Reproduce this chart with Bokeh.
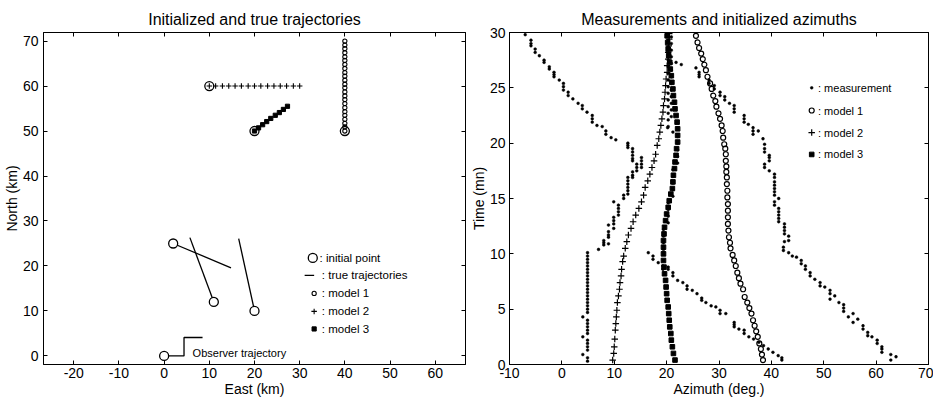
from bokeh.plotting import figure
from bokeh.layouts import row
from bokeh.models import Range1d, LinearAxis, FixedTicker, ColumnDataSource, Label
from bokeh.embed import file_html
from bokeh.resources import INLINE

FONT = "Liberation Sans"

# ---------------- left panel: trajectories (km) ----------------
init_east = [0, 2, 11, 20]
init_north = [0, 25, 12, 10]
model_init_east = [10, 20, 40]
model_init_north = [60, 50, 50]

true_east = [[2, 14.8], [11, 5.7], [20, 16.5]]
true_north = [[25, 19.6], [12, 26.3], [10, 26.1]]

observer_east = [0, 4.4, 4.4, 8.5]
observer_north = [0, 0, 4.1, 4.1]

traj1_east = [40] * 24
traj1_north = [50.0, 50.9, 51.7, 52.6, 53.5, 54.3, 55.2, 56.1, 57.0, 57.8, 58.7, 59.6,
               60.4, 61.3, 62.2, 63.0, 63.9, 64.8, 65.7, 66.5, 67.4, 68.3, 69.1, 70.0]
traj2_east = [10.0, 11.4, 12.9, 14.3, 15.7, 17.1, 18.6, 20.0, 21.4, 22.9, 24.3, 25.7,
              27.1, 28.6, 30.0]
traj2_north = [60] * 15
traj3_east = [20.0, 20.9, 21.8, 22.7, 23.6, 24.6, 25.5, 26.4, 27.3]
traj3_north = [50.0, 50.7, 51.4, 52.1, 52.8, 53.5, 54.1, 54.8, 55.5]

east_ticks = [-20, -10, 0, 10, 20, 30, 40, 50, 60]
north_ticks = [0, 10, 20, 30, 40, 50, 60, 70]

left_legend_labels = [": initial point", ": true trajectories", ": model 1", ": model 2", ": model 3"]

# ---------------- right panel: azimuths (time mn, azimuth deg) ----------------
meas_track_a = [
    (29.8, -7.0), (29.3, -5.9), (29.0, -5.9), (28.8, -5.9), (28.5, -5.1), (28.2, -5.1),
    (27.9, -4.3), (27.5, -3.4), (27.3, -3.4), (26.9, -2.4), (26.7, -2.4), (26.4, -1.5),
    (26.2, -1.5), (26.0, -1.5), (25.7, -0.5), (25.4, 0.3), (25.1, 0.3), (24.8, 0.3),
    (24.6, 1.2), (24.3, 1.2), (24.0, 2.1), (23.6, 3.1), (23.4, 3.9), (23.1, 3.9),
    (22.8, 4.8), (22.5, 5.8), (22.2, 5.8), (21.9, 5.8), (21.6, 6.7), (21.5, 7.7),
    (21.1, 8.4), (20.8, 8.4), (20.5, 9.4), (20.3, 10.3),
    (20.0, 12.6), (19.8, 12.6), (19.6, 12.6), (19.5, 13.5), (19.2, 13.5), (18.9, 13.5),
    (18.6, 13.5), (18.4, 13.5), (18.7, 15.2), (18.4, 15.2), (18.1, 15.2), (17.8, 15.2),
    (18.1, 14.3), (17.8, 14.3), (17.5, 14.3), (17.4, 13.5), (17.1, 13.5), (16.9, 13.5),
    (16.9, 12.6), (16.6, 12.6), (16.3, 12.6), (16.0, 12.6), (15.7, 12.6), (15.4, 12.6),
    (15.3, 11.8), (15.0, 11.8), (14.7, 9.9), (14.4, 10.8), (14.1, 10.8), (13.8, 10.8),
    (13.5, 10.8), (13.3, 9.9), (13.0, 9.9), (12.7, 9.9), (12.6, 8.9), (12.3, 9.9),
    (12.0, 8.9), (11.7, 8.9), (11.5, 8.9), (11.2, 8.0), (11.0, 8.0), (10.8, 8.0),
    (10.9, 8.9), (10.4, 7.0),
    (10.1, 4.9), (9.8, 4.9), (9.5, 4.9), (9.2, 4.9), (8.9, 4.9), (8.6, 4.9), (8.3, 4.9),
    (8.0, 4.9), (7.7, 4.9), (7.4, 4.9), (7.1, 4.9), (6.8, 4.9), (6.5, 4.9), (6.2, 4.9),
    (5.9, 4.9), (5.6, 4.9), (5.3, 4.9), (5.0, 4.9), (4.7, 4.9), (4.3, 4.0), (4.0, 4.9),
    (3.7, 4.9), (3.4, 4.9), (3.1, 4.9), (2.8, 4.9), (2.5, 4.0), (2.2, 4.9), (1.9, 4.9),
    (1.6, 4.9), (1.3, 4.9), (0.9, 4.0), (0.6, 4.9), (0.3, 4.9),
]

meas_track_b = [
    (0.4, 42.0), (0.6, 42.0), (0.8, 41.3), (1.1, 40.3), (1.4, 39.4), (1.7, 38.5),
    (2.0, 37.6), (2.3, 36.6), (2.5, 35.7), (2.8, 34.8), (3.1, 34.8), (3.2, 33.8),
    (3.4, 32.9), (3.6, 32.9), (3.8, 32.9), (4.6, 31.3), (4.6, 30.2), (4.9, 30.2),
    (5.2, 29.4), (5.3, 28.5), (5.6, 27.5), (5.8, 26.7), (6.0, 26.7), (6.4, 25.8),
    (6.7, 24.9), (6.8, 23.9), (7.1, 23.9), (7.4, 23.1), (7.6, 22.1), (8.0, 21.2),
    (8.3, 21.2), (8.6, 20.3), (8.8, 20.3), (8.6, 19.3), (8.9, 19.3), (9.2, 18.4),
    (9.5, 17.4), (9.8, 17.4), (10.1, 16.5),
    (10.4, 19.4), (11.0, 19.4), (11.6, 19.4), (12.2, 19.4), (12.8, 20.3), (13.4, 20.3),
    (14.0, 20.3), (14.6, 20.3), (15.2, 21.2), (15.8, 21.2), (16.4, 21.2), (17.0, 21.2),
    (17.6, 21.2), (18.2, 22.1), (18.8, 22.1), (19.4, 22.1), (20.0, 22.1), (20.6, 22.1),
    (21.0, 21.2), (21.4, 20.2),
    (21.5, 20.3), (22.1, 20.3), (22.7, 20.3), (23.3, 20.3), (23.9, 20.3), (24.5, 20.3),
    (25.1, 20.3), (25.7, 20.3), (26.3, 20.3), (26.9, 20.3), (27.5, 20.3), (28.1, 20.3),
    (28.7, 20.3), (29.3, 20.3), (29.9, 20.3),
    (22.4, 20.9), (23.0, 20.9), (23.6, 20.9), (24.2, 20.9), (24.8, 20.9), (25.4, 20.9),
    (26.0, 20.9), (26.6, 20.9), (27.2, 20.9), (27.8, 20.9), (28.4, 20.9), (29.0, 20.9),
    (29.6, 20.9), (27.3, 21.8), (27.1, 22.8),
]

meas_track_c = [
    (0.7, 63.8), (0.9, 62.8), (0.4, 62.8), (1.1, 61.1), (1.4, 61.1), (1.6, 61.1),
    (1.9, 60.2), (2.2, 60.2), (2.5, 59.2), (2.6, 58.4), (2.9, 58.4), (3.2, 57.5),
    (3.5, 57.5), (3.8, 55.6), (4.1, 56.5), (4.3, 54.7), (4.6, 55.6), (4.8, 53.8),
    (5.1, 53.8), (5.4, 53.8), (5.6, 52.9), (5.9, 51.2), (6.2, 52.1), (6.4, 51.2),
    (6.7, 51.2), (7.0, 50.2), (7.1, 49.3), (7.4, 49.3), (7.7, 48.3), (8.0, 47.4),
    (8.3, 47.4), (8.6, 46.5), (8.9, 46.5), (9.1, 45.7), (9.4, 45.7), (9.7, 44.8),
    (9.8, 44.0), (10.1, 43.3), (10.3, 42.3), (10.6, 42.3), (11.1, 42.5), (11.2, 43.3),
    (11.6, 43.3), (11.8, 42.5), (12.1, 42.5), (12.4, 42.5), (12.7, 42.5), (12.9, 41.4),
    (13.2, 41.4), (13.5, 41.4), (13.8, 41.4), (14.1, 41.4), (14.4, 40.6), (14.7, 40.6),
    (15.0, 41.4), (15.3, 40.6), (15.6, 40.6), (15.9, 40.6), (16.2, 40.6), (16.5, 40.6),
    (16.9, 40.6), (17.2, 40.6), (17.5, 39.6), (17.8, 38.7), (18.1, 38.7), (18.4, 39.6),
    (18.7, 39.6), (18.9, 39.6), (19.2, 38.7), (19.5, 38.7), (19.9, 38.7), (20.4, 38.4),
    (21.1, 37.5), (20.8, 36.5), (21.1, 36.5), (21.4, 36.5), (21.7, 35.6), (21.9, 34.8),
    (22.2, 34.8), (22.5, 34.8), (22.8, 32.9), (23.1, 32.9), (23.4, 32.9), (23.6, 32.0),
    (23.9, 31.1), (24.2, 31.1), (24.3, 30.2), (24.6, 30.2), (24.9, 29.1), (25.2, 29.1),
    (25.4, 28.1), (25.7, 28.1), (26.0, 26.2), (26.2, 26.2), (26.4, 26.2), (26.8, 25.6),
]

model1_track = [
    (0.4, 38.4), (0.9, 38.2), (1.4, 38.0), (1.9, 37.7), (2.5, 37.4), (3.0, 37.1),
    (3.5, 36.8), (4.0, 36.5), (4.6, 36.2), (5.1, 35.8), (5.6, 35.4), (6.1, 34.9),
    (6.8, 34.6), (7.3, 34.1), (7.8, 33.8), (8.3, 33.5), (8.9, 33.2), (9.4, 32.9),
    (9.9, 32.6), (10.5, 32.2), (11.0, 32.1), (11.5, 31.9), (12.1, 31.8), (12.7, 31.7),
    (13.3, 31.7), (13.9, 31.7), (14.5, 31.7), (15.1, 31.6), (15.7, 31.6), (16.3, 31.5),
    (16.9, 31.5), (17.4, 31.4), (17.9, 31.4), (18.4, 31.3), (19.0, 31.3), (19.5, 31.2),
    (19.9, 31.0), (20.5, 30.8), (21.1, 30.7), (21.6, 30.5), (22.2, 30.2), (22.7, 29.9),
    (23.3, 29.5), (23.8, 29.3), (24.3, 28.9), (24.9, 28.6), (25.4, 28.3), (26.0, 27.8),
    (26.6, 27.5), (27.1, 27.2), (27.6, 26.9), (28.1, 26.6), (28.6, 26.2), (29.1, 25.9),
    (29.7, 25.6),
]

model2_track = [
    (0.4, 9.7), (1.0, 9.9), (1.6, 10.0), (2.3, 10.1), (3.1, 10.2), (3.7, 10.3),
    (4.3, 10.4), (4.9, 10.5), (5.6, 10.6), (6.2, 10.8), (6.8, 11.0), (7.4, 11.1),
    (8.0, 11.3), (8.6, 11.4), (9.3, 11.6), (9.8, 11.8), (10.5, 12.1), (11.1, 12.4),
    (11.7, 12.7), (12.3, 13.2), (12.9, 13.6), (13.5, 14.1), (14.1, 14.7), (14.7, 15.2),
    (15.3, 15.6), (16.0, 15.9), (16.6, 16.4), (17.2, 16.8), (17.8, 17.2), (18.4, 17.6),
    (19.0, 17.9), (19.8, 18.2), (20.4, 18.5), (21.0, 18.7), (21.6, 18.9), (22.2, 19.1),
    (22.8, 19.3), (23.4, 19.4), (24.0, 19.6), (24.6, 19.7), (25.2, 19.8), (25.8, 19.9),
    (26.4, 20.1), (27.0, 20.1), (27.6, 20.3), (28.2, 20.3), (28.8, 20.4), (29.4, 20.5),
    (29.9, 20.5),
]

model3_track = [
    (0.4, 21.6), (1.0, 21.3), (1.6, 21.1), (2.2, 20.9), (2.8, 20.8), (3.4, 20.6),
    (4.0, 20.5), (4.6, 20.4), (5.2, 20.3), (5.8, 20.1), (6.4, 20.0), (7.0, 19.9),
    (7.6, 19.8), (8.2, 19.6), (8.8, 19.5), (9.4, 19.4), (10.0, 19.4), (10.6, 19.4),
    (11.2, 19.4), (11.8, 19.5), (12.4, 19.6), (13.0, 19.8), (13.6, 20.0), (14.2, 20.3),
    (14.8, 20.5), (15.4, 20.8), (15.9, 21.1), (16.5, 21.2), (17.1, 21.3), (17.7, 21.5),
    (18.3, 21.6), (18.9, 21.8), (19.5, 21.9), (20.1, 22.1), (20.7, 22.1), (21.3, 22.1),
    (21.9, 22.0), (22.5, 21.8), (23.1, 21.6), (23.7, 21.5), (24.3, 21.3), (24.9, 21.2),
    (25.5, 21.0), (26.1, 20.9), (26.7, 20.7), (27.3, 20.6), (27.9, 20.4), (28.5, 20.3),
    (29.1, 20.2), (29.7, 20.1),
]

azimuth_ticks = [-10, 0, 10, 20, 30, 40, 50, 60, 70]
time_ticks = [0, 5, 10, 15, 20, 25, 30]

right_legend_labels = [": measurement", ": model 1", ": model 2", ": model 3"]

# legend placement (data units of each panel)
LEFT_KEY_X = 32.9
LEFT_TEXT_X = [34.4, 34.9, 34.9, 34.9, 34.9]
LEFT_ROW_Y = [21.8, 17.9, 13.9, 9.9, 6.0]
RIGHT_KEY_X = 47.7
RIGHT_TEXT_X = 48.9
RIGHT_ROW_T = [25.0, 22.95, 20.96, 18.98]


def track_source(pairs):
    return ColumnDataSource(data=dict(time=[p[0] for p in pairs], az=[p[1] for p in pairs]))


def negative_labels(ticks):
    return {t: str(t) for t in ticks if t < 0}


def style_axes(p, xticks, yticks, y_label_standoff):
    p.xgrid.grid_line_color = None
    p.ygrid.grid_line_color = None
    p.outline_line_color = "black"
    p.outline_line_width = 1
    p.background_fill_color = "white"
    p.border_fill_color = "white"
    p.xaxis.ticker = FixedTicker(ticks=xticks)
    p.yaxis.ticker = FixedTicker(ticks=yticks)
    p.xaxis.major_label_overrides = negative_labels(xticks)
    for ax in (p.xaxis[0], p.yaxis[0]):
        ax.axis_line_color = "black"
        ax.major_tick_line_color = "black"
        ax.major_tick_in = 4
        ax.major_tick_out = 0
        ax.minor_tick_line_color = None
        ax.major_label_text_font = FONT
        ax.major_label_text_font_size = "14px"
        ax.major_label_text_color = "black"
        ax.axis_label_text_font = FONT
        ax.axis_label_text_font_size = "14px"
        ax.axis_label_text_font_style = "normal"
        ax.axis_label_text_color = "black"
        ax.axis_label_standoff = 0
    p.xaxis[0].major_label_standoff = 3
    p.yaxis[0].major_label_standoff = y_label_standoff
    # tick marks mirrored on the top and right edges of the box (no labels)
    for ticks, side in ((xticks, "above"), (yticks, "right")):
        mirror = LinearAxis(ticker=FixedTicker(ticks=ticks),
                            major_label_text_font_size="1px",
                            major_label_text_color=None,
                            major_label_standoff=0,
                            major_tick_in=4, major_tick_out=0,
                            minor_tick_line_color=None,
                            axis_line_color="black",
                            major_tick_line_color="black")
        p.add_layout(mirror, side)
    p.title.text_font = FONT
    p.title.text_font_size = "16px"
    p.title.text_font_style = "normal"
    p.title.text_color = "black"
    p.title.align = "center"
    p.title.standoff = 9


def legend_text(p, x, y, text, size):
    p.add_layout(Label(x=x, y=y, text=text, text_font=FONT, text_font_size=size,
                       text_baseline="middle", text_align="left", text_color="black"))


# ---------------- left figure ----------------
p1 = figure(width=467, height=400, x_range=Range1d(-26.7, 66.7), y_range=Range1d(-1.9, 71.9),
            title="Initialized and true trajectories",
            x_axis_label="East (km)", y_axis_label="North (km)",
            output_backend="svg", toolbar_location=None,
            min_border_left=42, min_border_right=2, min_border_top=32, min_border_bottom=36)
style_axes(p1, east_ticks, north_ticks, 5)

p1.multi_line(true_east, true_north, line_color="black", line_width=1.3)
p1.line(observer_east, observer_north, line_color="black", line_width=1.3)

m1_style = dict(marker="circle", size=4.2, line_color="black", line_width=1.1, fill_alpha=0)
m2_style = dict(marker="cross", size=5.5, line_color="black", line_width=1.1)
m3_style = dict(marker="square", size=4.2, line_color="black", fill_color="black")
init_style = dict(marker="circle", size=9, line_color="black", line_width=1.3)

p1.scatter(traj1_east, traj1_north, **m1_style)
p1.scatter(traj2_east, traj2_north, **m2_style)
p1.scatter(traj3_east, traj3_north, **m3_style)
p1.scatter(init_east, init_north, fill_color="white", **init_style)
p1.scatter(model_init_east, model_init_north, fill_alpha=0, **init_style)

p1.add_layout(Label(x=6.3, y=0.7, text="Observer trajectory", text_font=FONT,
                    text_font_size="11px", text_baseline="middle", text_color="black"))

# legend keys and labels
p1.scatter([LEFT_KEY_X], [LEFT_ROW_Y[0]], fill_color="white", **init_style)
p1.line([LEFT_KEY_X - 1.8, LEFT_KEY_X + 0.3], [LEFT_ROW_Y[1]] * 2, line_color="black", line_width=1.3)
p1.scatter([LEFT_KEY_X + 0.3], [LEFT_ROW_Y[2]], **m1_style)
p1.scatter([LEFT_KEY_X + 0.3], [LEFT_ROW_Y[3]], **m2_style)
p1.scatter([LEFT_KEY_X + 0.3], [LEFT_ROW_Y[4]], **m3_style)
for tx, ty, lab in zip(LEFT_TEXT_X, LEFT_ROW_Y, left_legend_labels):
    legend_text(p1, tx, ty, lab, "11.5px")

# ---------------- right figure ----------------
p2 = figure(width=466, height=400, x_range=Range1d(-10, 70), y_range=Range1d(0, 30),
            title="Measurements and initialized azimuths",
            x_axis_label="Azimuth (deg.)", y_axis_label="Time (mn)",
            output_backend="svg", toolbar_location=None,
            min_border_left=37, min_border_right=5, min_border_top=32, min_border_bottom=36)
style_axes(p2, azimuth_ticks, time_ticks, 4)

meas_style = dict(marker="circle", size=2.8, line_color="black", fill_color="black", line_width=0.5)
a1_style = dict(marker="circle", size=5, line_color="black", line_width=1.2, fill_alpha=0)
a2_style = dict(marker="cross", size=6.5, line_color="black", line_width=1.2)
a3_style = dict(marker="square", size=4.6, line_color="black", fill_color="black")

for track in (meas_track_a, meas_track_b, meas_track_c):
    p2.scatter("az", "time", source=track_source(track), **meas_style)
p2.scatter("az", "time", source=track_source(model1_track), **a1_style)
p2.scatter("az", "time", source=track_source(model2_track), **a2_style)
p2.scatter("az", "time", source=track_source(model3_track), **a3_style)

for style, ty in zip((meas_style, a1_style, a2_style, a3_style), RIGHT_ROW_T):
    p2.scatter([RIGHT_KEY_X], [ty], **style)
for ty, lab in zip(RIGHT_ROW_T, right_legend_labels):
    legend_text(p2, RIGHT_TEXT_X, ty, lab, "11px")

layout = row(p1, p2)
open("out.html", "w").write(file_html(layout, INLINE))
